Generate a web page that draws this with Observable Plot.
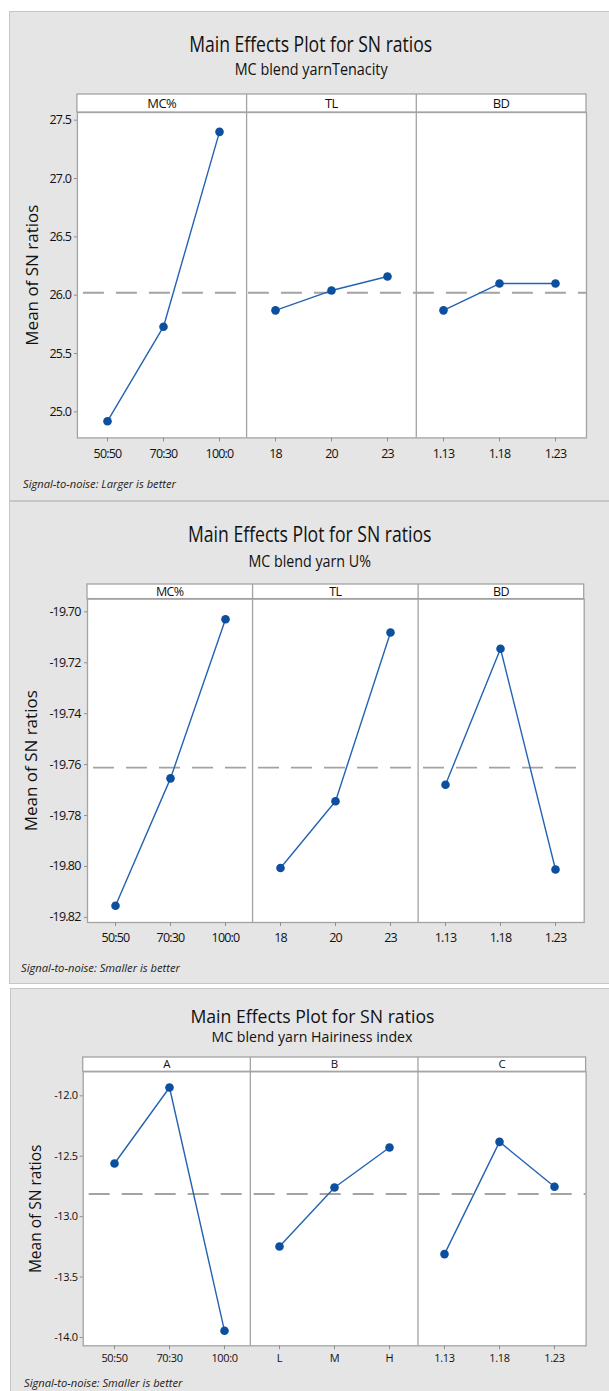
<!DOCTYPE html>
<html><head><meta charset="utf-8">
<script src="https://cdn.jsdelivr.net/npm/d3@7"></script>
<script src="https://cdn.jsdelivr.net/npm/@observablehq/plot@0.6"></script>
<style>
html,body{margin:0;padding:0;background:#fff;}
body{width:609px;height:1391px;position:relative;overflow:hidden;font-family:"Open Sans","Noto Sans",sans-serif;}
.panel{position:absolute;background:#e5e5e5;border:1px solid #c6c6c6;border-right:none;box-sizing:border-box;}
.t{position:absolute;white-space:nowrap;line-height:1;color:#111;}
.plotwrap{position:absolute;left:0;}
.plotwrap svg{overflow:visible;}
.p1 [aria-label$="tick label"], .p2 [aria-label$="tick label"]{letter-spacing:-0.8px;}
.p3 [aria-label$="tick label"]{letter-spacing:-0.35px;}
</style></head><body>
<script>
// ---------- data ----------
const titles = ["Main Effects Plot for SN ratios", "Main Effects Plot for SN ratios", "Main Effects Plot for SN ratios"];
const subtitles = ["MC blend yarnTenacity", "MC blend yarn U%", "MC blend yarn Hairiness index"];
const captions = ["Signal-to-noise: Larger is better", "Signal-to-noise: Smaller is better", "Signal-to-noise: Smaller is better"];
const yLabel = "Mean of SN ratios";

const factors1 = ["MC%", "TL", "BD"];
const levels1 = [["50:50", "70:30", "100:0"], ["18", "20", "23"], ["1.13", "1.18", "1.23"]];
const values1 = [[24.92, 25.73, 27.40], [25.87, 26.04, 26.16], [25.87, 26.10, 26.10]];
const yTicks1 = [25.0, 25.5, 26.0, 26.5, 27.0, 27.5];

const factors2 = ["MC%", "TL", "BD"];
const levels2 = [["50:50", "70:30", "100:0"], ["18", "20", "23"], ["1.13", "1.18", "1.23"]];
const values2 = [[-19.8154, -19.7654, -19.7029], [-19.8006, -19.7744, -19.7081], [-19.7679, -19.7145, -19.8012]];
const yTicks2 = [-19.82, -19.80, -19.78, -19.76, -19.74, -19.72, -19.70];

const factors3 = ["A", "B", "C"];
const levels3 = [["50:50", "70:30", "100:0"], ["L", "M", "H"], ["1.13", "1.18", "1.23"]];
const values3 = [[-12.560, -11.931, -13.945], [-13.247, -12.759, -12.428], [-13.310, -12.381, -12.753]];
const yTicks3 = [-14.0, -13.5, -13.0, -12.5, -12.0];

// ---------- helpers ----------
const frameColor = "#a3a3a3";
const lineColor = "#2463b3";
const dotColor = "#0b4f9e";

function addBox(left, top, height) {
  const d = document.createElement("div");
  d.className = "panel";
  d.style.left = left + "px"; d.style.top = top + "px";
  d.style.width = (609 - left) + "px"; d.style.height = height + "px";
  document.body.appendChild(d);
}

function addText(str, o) {
  const el = document.createElement("div");
  el.className = "t";
  el.textContent = str;
  el.style.fontSize = o.fs + "px";
  if (o.weight) el.style.fontWeight = o.weight;
  if (o.italic) el.style.fontStyle = "italic";
  if (o.color) el.style.color = o.color;
  document.body.appendChild(el);
  const w = el.getBoundingClientRect().width;
  const k = o.width ? o.width / w : 1;
  el.style.top = (o.cy - 0.531 * o.fs) + "px";
  if (o.cx != null) {
    el.style.left = (o.cx - w / 2) + "px";
    el.style.transformOrigin = "50% 50%";
  } else {
    el.style.left = o.x + "px";
    el.style.transformOrigin = "0 50%";
  }
  el.style.transform = `scaleX(${k})`;
}

function drawPanel(c) {
  const rows = [];
  c.factors.forEach((f, i) => c.levels[i].forEach((l, j) =>
    rows.push({factor: f, key: f + "|" + l, value: c.values[i][j]})));
  const keys = rows.map(d => d.key);
  const mean = d3.mean(rows, d => d.value);

  const strips = (index, scales, values, dim) => {
    const g = d3.create("svg:g");
    const x0 = dim.marginLeft, x1 = dim.width - dim.marginRight;
    const yt = dim.marginTop, y0 = yt - c.stripH, yb = dim.height - dim.marginBottom;
    const n = c.factors.length, w = (x1 - x0) / n;
    g.append("rect").attr("x", x0).attr("y", y0).attr("width", x1 - x0).attr("height", c.stripH)
      .attr("fill", "#fff").attr("stroke", frameColor).attr("stroke-width", 1.3);
    for (let i = 1; i < n; i++) {
      g.append("line").attr("x1", x0 + i * w).attr("x2", x0 + i * w).attr("y1", y0).attr("y2", yb)
        .attr("stroke", frameColor).attr("stroke-width", 1.3);
    }
    c.factors.forEach((f, i) => {
      g.append("text").attr("x", x0 + (i + 0.5) * w).attr("y", (y0 + yt) / 2).attr("dy", "0.36em")
        .attr("text-anchor", "middle").attr("fill", "#111").attr("font-size", c.stripFs)
        .attr("letter-spacing", "-0.6px").text(f);
    });
    return g.node();
  };

  const svg = Plot.plot({
    width: 609,
    height: c.height,
    marginLeft: c.ml, marginRight: c.mr, marginTop: c.mt, marginBottom: c.mb,
    style: {fontFamily: '"Open Sans", sans-serif', fontSize: c.tickFs + "px", color: "#111", background: "transparent", overflow: "visible"},
    x: {type: "point", domain: keys, padding: 0.5},
    y: {domain: c.yDomain},
    marks: [
      Plot.frame({fill: "#fff", stroke: frameColor, strokeWidth: 1.3}),
      Plot.ruleY([mean], {stroke: "#a3a3a3", strokeWidth: 1.8, strokeDasharray: "21,12", strokeDashoffset: -6}),
      strips,
      Plot.line(rows, {x: "key", y: "value", z: "factor", stroke: lineColor, strokeWidth: 1.4}),
      Plot.dot(rows, {x: "key", y: "value", r: 4.3, fill: dotColor, stroke: null}),
      Plot.axisX({tickSize: 4, tickPadding: c.xPad, tickFormat: k => k.split("|")[1], stroke: "#8f8f8f", fill: "#111", label: null}),
      Plot.axisY({ticks: c.yTicks, tickSize: 3, tickPadding: c.yPad, tickFormat: d => d.toFixed(c.dec), stroke: "#8f8f8f", fill: "#111", label: null}),
      Plot.text([yLabel], {frameAnchor: "left", textAnchor: "middle", rotate: -90, dx: c.ylx - c.ml, fontSize: c.ylFs, fill: "#111"})
    ]
  });
  const wrap = document.createElement("div");
  wrap.className = "plotwrap " + c.cls;
  wrap.style.top = c.top + "px";
  wrap.appendChild(svg);
  document.body.appendChild(wrap);
}

// ---------- panel 1 ----------
addBox(9, 11, 490);
addText(titles[0], {cx: 311, cy: 44, fs: 21.5, width: 243});
addText(subtitles[0], {cx: 311, cy: 69.2, fs: 16, width: 153});
drawPanel({
  cls: "p1", factors: factors1, levels: levels1, values: values1, yTicks: yTicks1, dec: 1,
  yDomain: [24.777, 27.566], top: 92.3, height: 375.4,
  ml: 76.9, mr: 23, mt: 20, mb: 30, stripH: 18,
  stripFs: 13, tickFs: 12.5, xPad: 7, yPad: 3.4, ylx: 32, ylFs: 17
});
addText(captions[0], {x: 22.7, cy: 484.5, fs: 11.5, width: 153, italic: true, color: "#222"});

// ---------- panel 2 ----------
addBox(9, 501, 483);
addText(titles[1], {cx: 310, cy: 534, fs: 21.5, width: 243.5});
addText(subtitles[1], {cx: 310, cy: 561.2, fs: 16, width: 122.4});
drawPanel({
  cls: "p2", factors: factors2, levels: levels2, values: values2, yTicks: yTicks2, dec: 2,
  yDomain: [-19.822, -19.695], top: 581.7, height: 370,
  ml: 87, mr: 25.3, mt: 16.6, mb: 30, stripH: 14.6,
  stripFs: 12.5, tickFs: 12.5, xPad: 6.6, yPad: 4, ylx: 31, ylFs: 17
});
addText(captions[1], {x: 21.4, cy: 968.3, fs: 11.5, width: 159, italic: true, color: "#222"});

// ---------- panel 3 ----------
addBox(10, 988, 420);
addText(titles[2], {cx: 312, cy: 1016.7, fs: 19, width: 244});
addText(subtitles[2], {cx: 312, cy: 1037.6, fs: 14.5, width: 201});
drawPanel({
  cls: "p3", factors: factors3, levels: levels3, values: values3, yTicks: yTicks3, dec: 1,
  yDomain: [-14.069, -11.801], top: 1054.7, height: 314.3,
  ml: 82.7, mr: 23.4, mt: 16.3, mb: 24, stripH: 14.3,
  stripFs: 11.5, tickFs: 11, xPad: 4.3, yPad: 2.5, ylx: 36, ylFs: 15.5
});
addText(captions[2], {x: 24, cy: 1382.7, fs: 11.5, width: 158.5, italic: true, color: "#222"});
</script>
</body></html>
